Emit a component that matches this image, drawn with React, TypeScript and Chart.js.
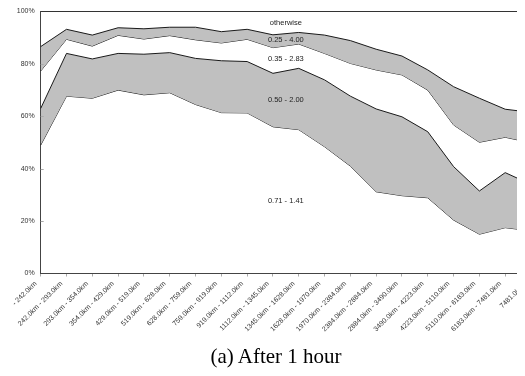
import React, { useEffect, useRef } from 'react';
import { Chart, registerables } from 'chart.js';

Chart.register(...registerables);

const categories = [
  '- 242.0km', '242.0km - 293.0km', '293.0km - 354.0km', '354.0km - 429.0km',
  '429.0km - 519.0km', '519.0km - 628.0km', '628.0km - 759.0km', '759.0km - 919.0km',
  '919.0km - 1112.0km', '1112.0km - 1345.0km', '1345.0km - 1628.0km', '1628.0km - 1970.0km',
  '1970.0km - 2384.0km', '2384.0km - 2884.0km', '2884.0km - 3490.0km', '3490.0km - 4223.0km',
  '4223.0km - 5110.0km', '5110.0km - 6183.0km', '6183.0km - 7481.0km', '7481.0km -',
];

// boundary lines (cumulative %), top to bottom
const line025 = [86.6, 93.2, 91.0, 93.8, 93.4, 94.0, 94.0, 92.3, 93.2, 91.1, 92.0, 91.0, 88.9, 85.6, 83.0, 77.7, 71.3, 66.9, 62.7, 61.5];
const line035 = [77.3, 89.4, 86.8, 90.9, 89.5, 90.8, 89.2, 88.0, 89.4, 86.2, 87.6, 84.0, 80.2, 77.7, 75.8, 70.0, 56.7, 50.1, 52.0, 49.9];
const line050 = [63.0, 84.0, 81.9, 84.0, 83.7, 84.3, 82.1, 81.2, 80.9, 76.4, 78.3, 73.9, 67.7, 62.8, 59.8, 54.1, 40.8, 31.5, 38.5, 34.0];
const line071 = [49.0, 67.7, 66.9, 70.0, 68.2, 69.0, 64.5, 61.4, 61.3, 56.0, 54.9, 48.4, 41.0, 31.2, 29.7, 28.9, 20.4, 15.0, 17.5, 16.3];

const bandLabels = ['otherwise', '0.25 - 4.00', '0.35 - 2.83', '0.50 - 2.00', '0.71 - 1.41'];
const bandLabelValues = [95.5, 89.1, 81.9, 66.2, 27.7];
const bandLabelIndex = 9.5;

const yTicks = [0, 20, 40, 60, 80, 100];

const caption = '(a) After 1 hour';

const xTickFont = { family: '"Liberation Sans", Arial, sans-serif', size: 7 };
const yTickFont = { family: '"Liberation Sans", Arial, sans-serif', size: 7 };

export default function App() {
  const ref = useRef<HTMLCanvasElement>(null);

  useEffect(() => {
    const canvas = ref.current;
    if (!canvas) return;

    const bandLabelPlugin = {
      id: 'bandLabels',
      afterDatasetsDraw(chart: any) {
        const { ctx, scales } = chart;
        const x = scales.x;
        const y = scales.y;
        ctx.save();
        ctx.font = '7.5px "Liberation Sans", Arial, sans-serif';
        ctx.fillStyle = '#222';
        ctx.textAlign = 'center';
        ctx.textBaseline = 'middle';
        bandLabels.forEach((t, i) => {
          ctx.fillText(t, x.getPixelForValue(bandLabelIndex), y.getPixelForValue(bandLabelValues[i]));
        });
        ctx.strokeStyle = '#aaa';
        ctx.lineWidth = 1;
        yTicks.forEach((v) => {
          if (v === 0 || v === 100) return;
          const py = Math.round(y.getPixelForValue(v)) + 0.5;
          ctx.beginPath();
          ctx.moveTo(x.left, py);
          ctx.lineTo(x.left + 3, py);
          ctx.stroke();
        });
        ctx.restore();
      },
    };

    const lineStyle = {
      borderColor: '#1a1a1a',
      borderWidth: 1,
      pointRadius: 0,
      tension: 0,
      backgroundColor: '#c0c0c0',
    };

    const chart = new Chart(canvas, {
      type: 'line',
      data: {
        labels: categories,
        datasets: [
          { ...lineStyle, label: '0.25 - 4.00', data: line025, fill: '+1' },
          { ...lineStyle, label: '0.35 - 2.83', data: line035, fill: false },
          { ...lineStyle, label: '0.50 - 2.00', data: line050, fill: '+1' },
          { ...lineStyle, label: '0.71 - 1.41', data: line071, fill: false },
        ],
      },
      options: {
        animation: false,
        responsive: false,
        layout: { padding: { top: 11.5, right: 9, left: 0, bottom: 0 } },
        plugins: {
          legend: { display: false },
          tooltip: { enabled: false },
          title: { display: false },
        },
        scales: {
          x: {
            offset: false,
            grid: { drawOnChartArea: false, tickLength: 3, color: '#aaa' },
            border: { color: '#444', width: 1 },
            ticks: {
              autoSkip: false,
              minRotation: 45,
              maxRotation: 45,
              font: xTickFont,
              color: '#333',
              padding: 3,
              labelOffset: -5,
            },
            afterFit: (s: any) => {
              s.height = 102.5;
            },
          },
          y: {
            min: 0,
            max: 100,
            afterBuildTicks: (s: any) => {
              s.ticks = yTicks.map((v) => ({ value: v }));
            },
            ticks: {
              callback: (v: any) => v + '%',
              padding: 6,
              font: yTickFont,
              color: '#333',
            },
            grid: {
              drawTicks: false,
              color: (c: any) => (c.tick && c.tick.value === 100 ? '#333' : 'rgba(0,0,0,0)'),
            },
            border: { color: '#444', width: 1 },
            afterFit: (s: any) => {
              s.width = 40.7;
            },
          },
        },
      },
      plugins: [bandLabelPlugin],
    });

    return () => chart.destroy();
  }, []);

  return (
    <div
      style={{
        position: 'relative',
        width: 525,
        height: 376,
        overflow: 'hidden',
        margin: '-8px 0 0 -8px',
        background: '#fff',
      }}
    >
      <canvas ref={ref} width={540} height={376} style={{ position: 'absolute', left: 0, top: 0 }} />
      <div
        style={{
          position: 'absolute',
          left: 0,
          top: 346,
          width: 552,
          textAlign: 'center',
          fontFamily: '"Liberation Serif", "Times New Roman", serif',
          fontSize: 21,
          lineHeight: '21px',
          color: '#000',
          whiteSpace: 'pre',
        }}
      >
        {caption}
      </div>
    </div>
  );
}
